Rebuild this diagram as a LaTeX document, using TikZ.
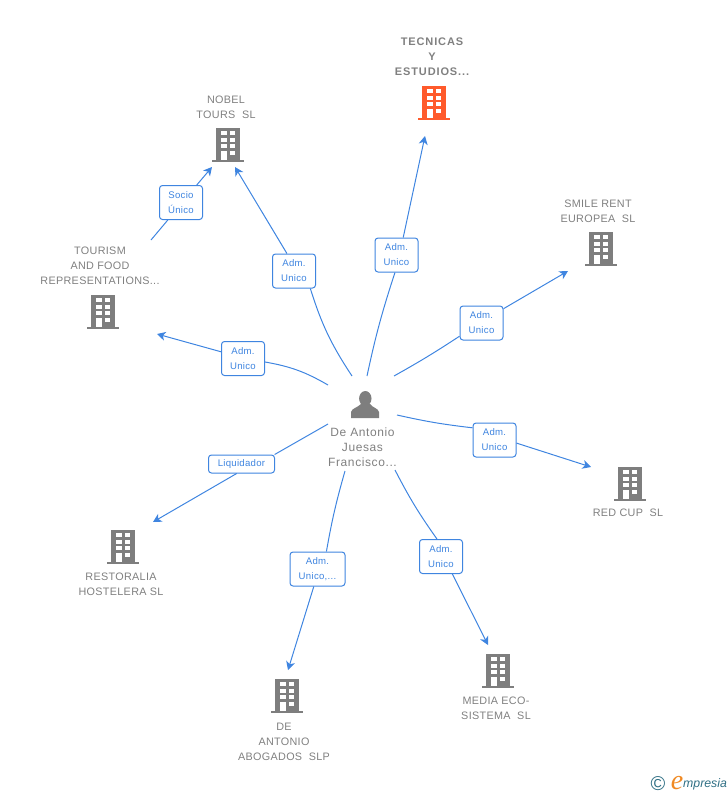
\documentclass[tikz,border=0pt]{standalone}
\usepackage{fontspec}
\setmainfont{Liberation Sans}
\newfontfamily\logofont{Liberation Serif}
\usetikzlibrary{arrows.meta}
\definecolor{linkblue}{HTML}{3F85E0}
\definecolor{labgray}{HTML}{808080}
\definecolor{bldgray}{HTML}{7E7E7E}
\definecolor{bldred}{HTML}{FF5A2B}
\definecolor{logoteal}{HTML}{2F6F84}
\definecolor{logoorange}{HTML}{F08A24}
\tikzset{link/.style={draw=linkblue,line width=1pt}}
\tikzset{linkarr/.style={link,-{Stealth[length=8.5pt,width=9pt,inset=2.5pt]}}}
\tikzset{role/.style={draw=linkblue,rounded corners=3pt,fill=white,text=linkblue,align=center,
      font=\fontsize{9.6}{15}\selectfont\addfontfeatures{LetterSpace=3},inner sep=0pt,line width=1pt}}
\tikzset{firm/.style={text=labgray,align=center,inner sep=0pt,
      font=\fontsize{10.8}{15}\selectfont\addfontfeatures{LetterSpace=3}}}
\tikzset{bldg/.pic={
    \fill[pic actions] (-12,-17) rectangle (11.5,15);
    \fill[pic actions] (-16.5,14.5) rectangle (15.5,17);
    \foreach \r in {-14,-7.5,-1} {
      \fill[white] (-7,\r) rectangle (-1.5,\r+4.2);
      \fill[white] (1.5,\r) rectangle (7,\r+4.2);
    }
    \fill[white] (1.5,5.5) rectangle (7,9.7);
    \fill[white] (-7,5.5) rectangle (-1.5,14.5);
  }}
\begin{document}
\begin{tikzpicture}[x=1pt,y=-1pt]
    \useasboundingbox (0,0) rectangle (728,795);
    % buildings
    \pic[fill=bldred] at (434,103) {bldg};
    \pic[fill=bldgray] at (228,145) {bldg};
    \pic[fill=bldgray] at (601,249) {bldg};
    \pic[fill=bldgray] at (103,312) {bldg};
    \pic[fill=bldgray] at (630,484) {bldg};
    \pic[fill=bldgray] at (123,547) {bldg};
    \pic[fill=bldgray] at (498,671) {bldg};
    \pic[fill=bldgray] at (287,696) {bldg};
    % person
    \fill[bldgray] (351,418) -- (351,412) .. controls (352,408) and (357,408) .. (361,404)
      -- (370,404) .. controls (373,408) and (378,408) .. (379,412) -- (379,418) -- cycle;
    \fill[bldgray] (365.3,398.5) ellipse (6.2 and 7.5);
    % names
    \node[firm,font=\fontsize{11}{15}\selectfont\bfseries\addfontfeatures{LetterSpace=8}] (tecnicas) at (432,57) {TECNICAS\\Y\\ESTUDIOS...};
    \node[firm] (nobel) at (226,107) {NOBEL\\TOURS\ \ SL};
    \node[firm] (smile) at (598,211) {SMILE RENT\\EUROPEA\ \ SL};
    \node[firm] (tourism) at (100,266) {TOURISM\\AND FOOD\\REPRESENTATIONS...};
    \node[firm] (redcup) at (628,513) {RED CUP\ \ SL};
    \node[firm] (restoralia) at (121,584) {RESTORALIA\\HOSTELERA SL};
    \node[firm] (media) at (496,708) {MEDIA ECO-\\SISTEMA\ \ SL};
    \node[firm] (deantonio) at (284,741.5) {DE\\ANTONIO\\ABOGADOS\ \ SLP};
    \node[firm,font=\fontsize{12}{15}\selectfont\addfontfeatures{LetterSpace=5}] (person) at (362.5,447) {De Antonio\\Juesas\\Francisco...};
    % free ends
    \coordinate (s1) at (367,376);
    \coordinate (e1) at (425,136);
    \coordinate (s2) at (352,376);
    \coordinate (e2) at (235,167);
    \coordinate (s3) at (328,385);
    \coordinate (e3) at (157,334);
    \coordinate (s4) at (151,240);
    \coordinate (e4) at (212,167);
    \coordinate (s5) at (394,376);
    \coordinate (e5) at (568,271);
    \coordinate (s6) at (397,415);
    \coordinate (e6) at (591,467);
    \coordinate (s7) at (395,470);
    \coordinate (e7) at (488,645);
    \coordinate (s8) at (345,471);
    \coordinate (e8) at (288,670);
    \coordinate (s9) at (328,424);
    \coordinate (e9) at (153,522);
    % role boxes
    \node[role,minimum width=43,minimum height=34] (r1) at (396.5,255) {Adm.\\Unico};
    \node[role,minimum width=43,minimum height=34] (r2) at (294,271) {Adm.\\Unico};
    \node[role,minimum width=43,minimum height=34] (r3) at (243,358.5) {Adm.\\Unico};
    \node[role,minimum width=43,minimum height=34] (r4) at (181,202.5) {Socio\\Único};
    \node[role,minimum width=43,minimum height=34] (r5) at (481.5,323) {Adm.\\Unico};
    \node[role,minimum width=43,minimum height=34] (r6) at (494.5,440) {Adm.\\Unico};
    \node[role,minimum width=43,minimum height=34] (r7) at (441,556.5) {Adm.\\Unico};
    \node[role,minimum width=55,minimum height=34] (r8) at (317.5,569) {Adm.\\Unico,...};
    \node[role,minimum width=66,minimum height=18] (r9) at (241.5,464) {Liquidador};
    % links
    \draw[link] (s1) to[bend left=3] (r1.-95);
    \draw[linkarr] (r1.69) -- (e1);
    \draw[link] (s2) to[bend left=8] (r2.-47);
    \draw[linkarr] (r2.112) -- (e2);
    \draw[link] (s3) to[bend right=10] (r3.-9);
    \draw[linkarr] (r3.163) -- (e3);
    \draw[link] (s4) -- (r4.-127);
    \draw[linkarr] (r4.48) -- (e4);
    \draw[link] (s5) to[bend right=2] (r5.-149);
    \draw[linkarr] (r5.33) -- (e5);
    \draw[link] (s6) to[bend right=3] (r6.151);
    \draw[linkarr] (r6.-8) -- (e6);
    \draw[link] (s7) to[bend right=4] (r7.103);
    \draw[linkarr] (r7.-57) -- (e7);
    \draw[link] (s8) to[bend right=3] (r8.63);
    \draw[linkarr] (r8.-102) -- (e8);
    \draw[link] (s9) -- (r9.16);
    \draw[linkarr] (r9.-117) -- (e9);
    % logo
    \node[text=logoteal,inner sep=0pt,font=\fontsize{20}{20}\selectfont] (copy) at (658,784) {©};
    \node[text=logoorange,inner sep=0pt,font=\fontsize{28}{28}\selectfont\logofont\itshape] (logoe) at (677,783) {e};
    \node[text=logoteal,inner sep=0pt,anchor=west,font=\fontsize{12.3}{15}\selectfont\itshape] (logotxt) at (683,784.5) {mpresia};
  \end{tikzpicture}
\end{document}
